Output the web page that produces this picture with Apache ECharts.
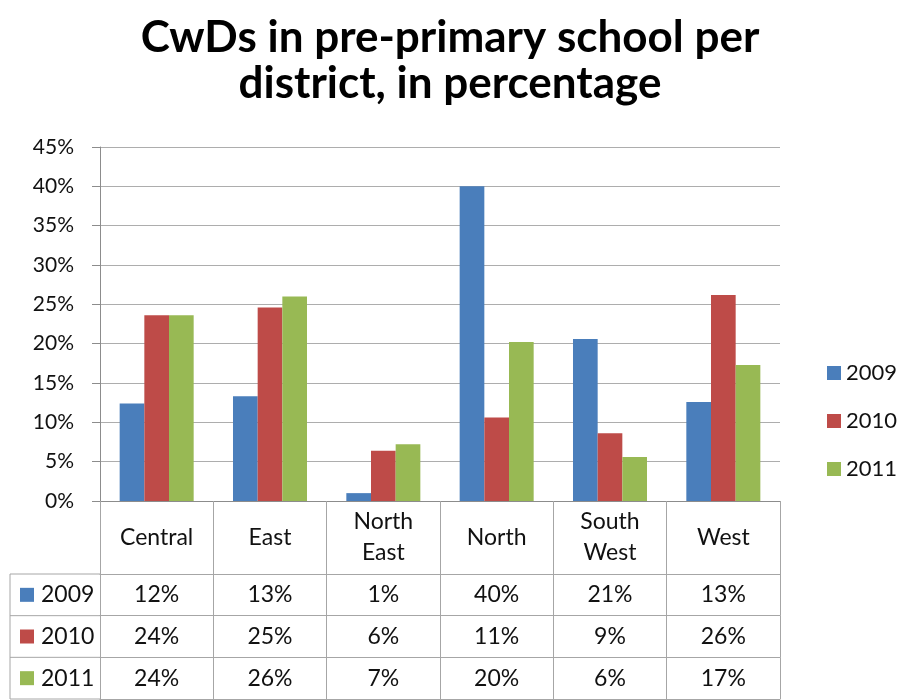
<!DOCTYPE html>
<html>
<head>
<meta charset="utf-8">
<script src="https://cdn.jsdelivr.net/npm/echarts@6/dist/echarts.min.js"></script>
<style>
  html, body { margin: 0; padding: 0; background: #ffffff; }
  #chart { width: 900px; height: 700px; }
</style>
</head>
<body>
<div id="chart"></div>
<script>
// District names (line breaks as shown in the table header)
const categories = ['Central', 'East', 'North\nEast', 'North', 'South\nWest', 'West'];
// Years plotted as series
const years = ['2009', '2010', '2011'];
// Share of CwDs in pre-primary school, percent
const values2009 = [12.4, 13.3, 1.0, 40.0, 20.6, 12.6];
const values2010 = [23.6, 24.6, 6.4, 10.6, 8.6, 26.2];
const values2011 = [23.6, 26.0, 7.2, 20.2, 5.6, 17.3];
const seriesValues = [values2009, values2010, values2011];
const colors = ['#4a7ebb', '#be4b48', '#98b954'];

// Layout
const FONT = 'Lato, "Noto Sans", sans-serif';
const G_LEFT = 100, G_RIGHT = 120, G_TOP = 147, G_BOTTOM = 199;
const HEADER_H = 73;      // category-name row under the axis
const ROW_H = 41.67;      // data rows of the table
const TABLE_LEFT = 10;
const LINE = '#a6a6a6';
const TEXT = '#111111';

const chart = echarts.init(document.getElementById('chart'), null, { renderer: 'canvas' });

const xAxes = [{
  type: 'category',
  data: categories,
  gridIndex: 0,
  position: 'bottom',
  axisLine: { show: true, lineStyle: { color: '#8c8c8c', width: 1 } },
  axisTick: { show: true, interval: 0, length: HEADER_H, lineStyle: { color: LINE } },
  axisLabel: {
    interval: 0, margin: HEADER_H / 2, verticalAlign: 'middle',
    fontFamily: FONT, fontSize: 23, color: TEXT, lineHeight: 31
  }
}];

// One axis per table row: its line is the row's top border, its ticks the cell walls
seriesValues.forEach((vals, r) => {
  xAxes.push({
    type: 'category',
    data: categories,
    gridIndex: 0,
    position: 'bottom',
    offset: HEADER_H + r * ROW_H,
    axisLine: { show: true, lineStyle: { color: LINE, width: 1 } },
    axisTick: { show: true, interval: 0, length: ROW_H, lineStyle: { color: LINE } },
    axisLabel: {
      interval: 0, margin: ROW_H / 2, verticalAlign: 'middle',
      fontFamily: FONT, fontSize: 23, color: TEXT,
      formatter: (v, i) => Math.round(vals[i]) + '%'
    }
  });
});
// Bottom border of the table
xAxes.push({
  type: 'category',
  data: categories,
  gridIndex: 0,
  position: 'bottom',
  offset: HEADER_H + 3 * ROW_H,
  axisLine: { show: true, lineStyle: { color: LINE, width: 1 } },
  axisTick: { show: false },
  axisLabel: { show: false }
});

// Row header cells (legend key + year) left of the plot
const rowHeader = [];
const tableTop = 700 - G_BOTTOM + HEADER_H;
for (let r = 0; r <= 3; r++) {
  rowHeader.push({
    type: 'line',
    shape: { x1: TABLE_LEFT, y1: tableTop + r * ROW_H, x2: G_LEFT, y2: tableTop + r * ROW_H },
    style: { stroke: LINE, lineWidth: 1 }
  });
}
rowHeader.push({
  type: 'line',
  shape: { x1: TABLE_LEFT, y1: tableTop, x2: TABLE_LEFT, y2: tableTop + 3 * ROW_H },
  style: { stroke: LINE, lineWidth: 1 }
});
years.forEach((y, r) => {
  const cy = tableTop + r * ROW_H + ROW_H / 2;
  rowHeader.push({
    type: 'rect',
    shape: { x: TABLE_LEFT + 10, y: cy - 7, width: 14, height: 14 },
    style: { fill: colors[r] }
  });
  rowHeader.push({
    type: 'text',
    x: TABLE_LEFT + 31, y: cy,
    style: { text: y, font: '23px ' + FONT, fill: TEXT, textVerticalAlign: 'middle', verticalAlign: 'middle' }
  });
});

const option = {
  backgroundColor: '#ffffff',
  animation: false,
  color: colors,
  title: {
    text: 'CwDs in pre-primary school per\ndistrict, in percentage',
    left: 445,
    textAlign: 'center',
    top: 10,
    textStyle: { fontFamily: FONT, fontWeight: 'bold', fontSize: 44, lineHeight: 46, color: '#000000' }
  },
  legend: {
    data: years,
    orient: 'vertical',
    left: 822,
    top: 357,
    itemWidth: 14,
    itemHeight: 14,
    itemGap: 26,
    icon: 'rect',
    textStyle: { fontFamily: FONT, fontSize: 22, color: TEXT }
  },
  grid: { left: G_LEFT, right: G_RIGHT, top: G_TOP, bottom: G_BOTTOM, containLabel: false },
  xAxis: xAxes,
  yAxis: {
    type: 'value',
    min: 0, max: 45, interval: 5,
    axisLine: { show: true, lineStyle: { color: '#8c8c8c' } },
    axisTick: { show: true, length: 8, lineStyle: { color: '#8c8c8c' } },
    axisLabel: { margin: 26, fontFamily: FONT, fontSize: 21, color: TEXT, formatter: '{value}%' },
    splitLine: { show: true, lineStyle: { color: '#adadad', width: 1 } }
  },
  series: years.map((y, i) => ({
    name: y,
    type: 'bar',
    xAxisIndex: 0,
    data: seriesValues[i],
    barGap: '0%',
    barCategoryGap: '34.7%',
    itemStyle: { color: colors[i] }
  })),
  graphic: rowHeader
};

chart.setOption(option);
</script>
</body>
</html>
